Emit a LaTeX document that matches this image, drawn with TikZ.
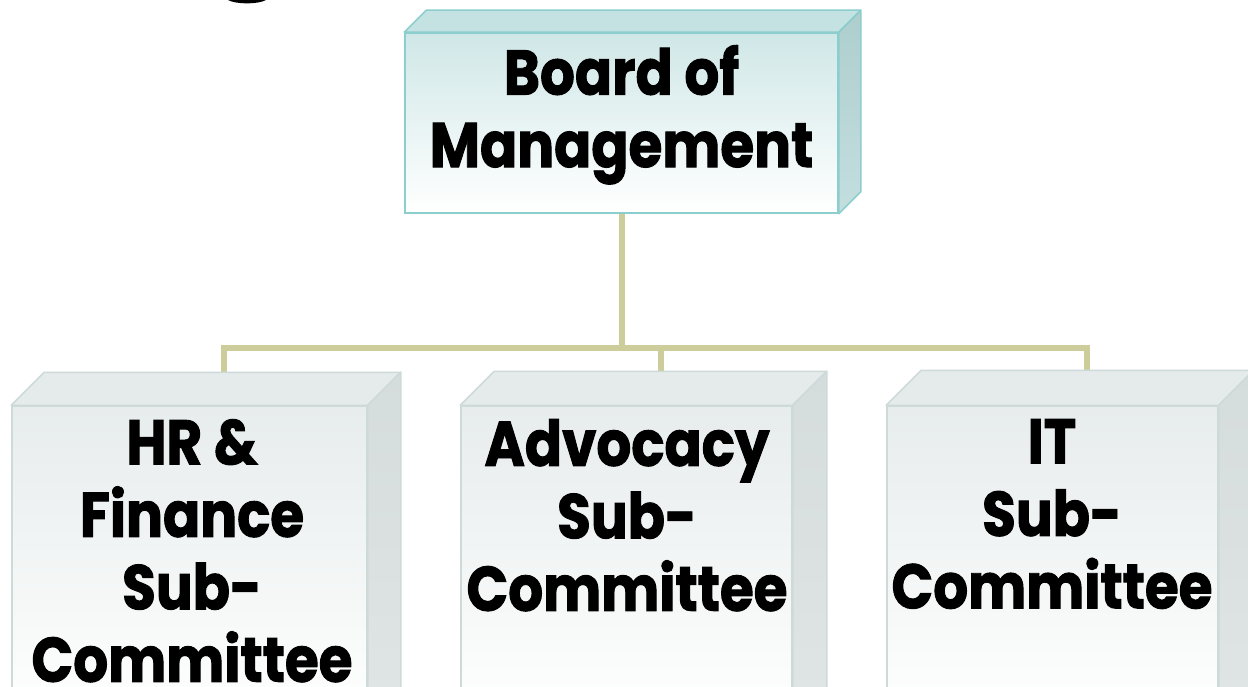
\documentclass[tikz,border=0pt]{standalone}
\usepackage{fontspec}
\setmainfont{Poppins}
\newfontfamily\lblfont{Poppins}[FakeStretch=0.87, FakeBold=1.5]
\usetikzlibrary{calc}
\definecolor{tealedge}{RGB}{140,205,205}
\definecolor{tealtop}{RGB}{196,226,226}
\definecolor{tealfront}{RGB}{208,231,231}
\definecolor{tealside}{RGB}{174,206,206}
\definecolor{tealside2}{RGB}{196,222,222}
\definecolor{greyedge}{RGB}{206,218,218}
\definecolor{greytop}{RGB}{229,235,235}
\definecolor{greyfront}{RGB}{231,236,236}
\definecolor{greyside}{RGB}{213,220,220}
\definecolor{greyside2}{RGB}{224,229,229}
\definecolor{linkcol}{RGB}{205,205,155}
\tikzset{
  frontface/.style={draw=#1edge, line width=1.5pt, top color=#1front, bottom color=white, inner sep=0pt},
  lbl/.style={font=\lblfont\bfseries\fontsize{63}{72.5}\selectfont, align=center, inner sep=0pt, anchor=north},
  link/.style={draw=linkcol, line width=6pt}
}
\newcommand{\boxfaces}[3]{%
  \fill[#2top, draw=#2edge, line width=1.5pt, line join=round]
    (#1.north west) -- ++(#3,-#3) -- ($(#1.north east)+(#3,-#3)$) -- (#1.north east) -- cycle;
  \shade[top color=#2side, bottom color=#2side2, draw=#2edge, line width=1.5pt, line join=round]
    (#1.north east) -- ++(#3,-#3) -- ($(#1.south east)+(#3,-#3)$) -- (#1.south east) -- cycle;
}
\begin{document}
\begin{tikzpicture}[x=1pt,y=-1pt]
\clip (0,0) rectangle (1248,687);
\fill[white] (0,0) rectangle (1248,687);
% fragment of cropped title letter
\fill[black] (228,0) .. controls (236,4.5) and (258,4.5) .. (266,0) -- cycle;

% connectors (behind boxes)
\coordinate (jc) at (621.5,348);
\coordinate (jl) at (224,348);
\coordinate (jm) at (661,348);
\coordinate (jr) at (1087,348);
\coordinate (dl) at (224,373);
\coordinate (dm) at (661,373);
\coordinate (dr) at (1087,373);
\coordinate (tb) at (621.5,212);
\draw[link] (tb) -- (jc);
\draw[link, line cap=rect] (jl) -- (jr);
\draw[link] (jl) -- (dl);
\draw[link] (jm) -- (dm);
\draw[link] (jr) -- (dr);

% top box
\node[frontface=teal, minimum width=433pt, minimum height=180pt] (board) at (621.5,123) {};
\boxfaces{board}{teal}{22}
\node[lbl] (boardt) at (621.5,45) {Board of\\Management};

% bottom boxes
\node[frontface=grey, minimum width=355pt, minimum height=320pt] (hr) at (189.5,566) {};
\boxfaces{hr}{grey}{33}
\node[lbl] (hrt) at (192,419) {HR \&\\Finance\\Sub-\\Committee};

\node[frontface=grey, minimum width=331pt, minimum height=320pt] (adv) at (626.5,566) {};
\boxfaces{adv}{grey}{34}
\node[lbl] (advt) at (627,419) {Advocacy\\Sub-\\Committee};

\node[frontface=grey, minimum width=331pt, minimum height=320pt] (it) at (1052.5,566) {};
\boxfaces{it}{grey}{35}
\node[lbl] (itt) at (1052,419) {IT\\Sub-\\Committee};
\end{tikzpicture}
\end{document}
